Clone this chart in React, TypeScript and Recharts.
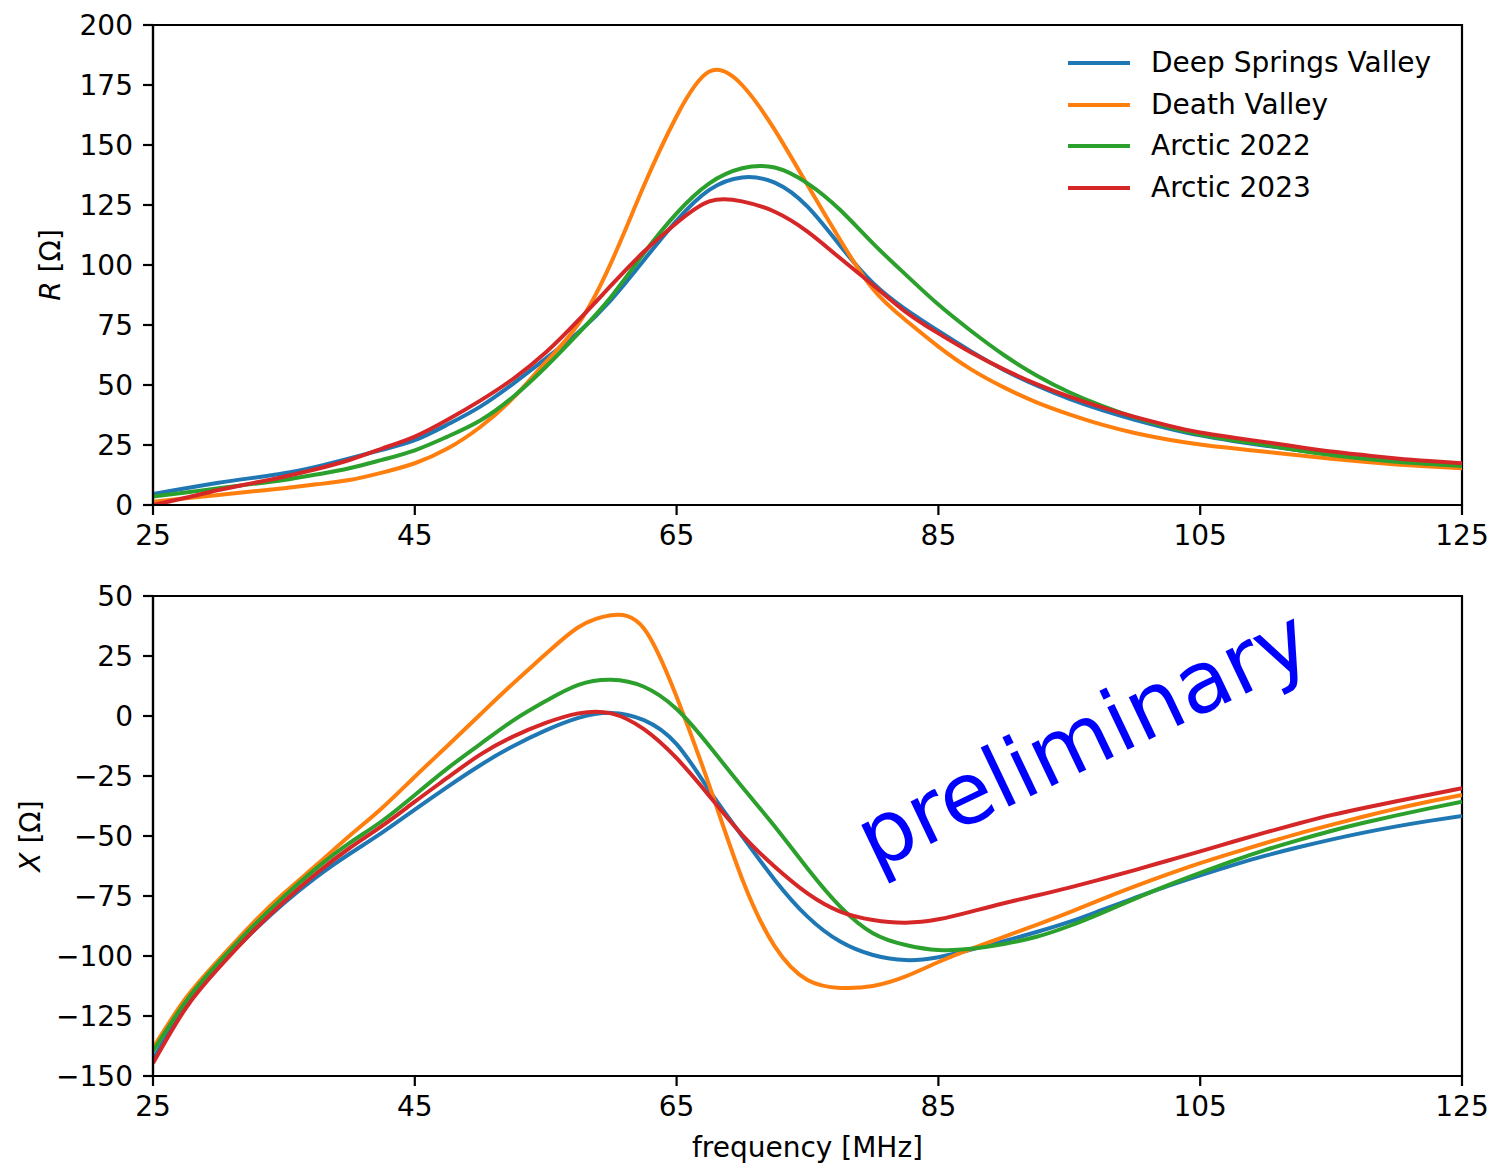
import React from 'react';
import { LineChart, Line, XAxis, YAxis, Legend, ReferenceDot, ReferenceArea } from 'recharts';

const FONT = '"DejaVu Sans", sans-serif';

// frequency grid in MHz
const freq = [
  25, 27.5, 30, 32.5, 35, 37.5, 40, 42.5, 45, 47.5, 50, 52.5, 55, 57.5, 60, 62.5, 65, 67.5, 70, 72.5,
  75, 77.5, 80, 82.5, 85, 87.5, 90, 92.5, 95, 97.5, 100, 102.5, 105, 107.5, 110, 112.5, 115, 117.5, 120, 122.5, 125,
];

// resistance R [Ohm]
const rDeepSprings = [
  4.6, 7, 9.3, 11.2, 13.2, 16, 19.4, 23, 27, 33.5, 41, 50.5, 61, 72, 85.5, 102, 118.5, 131.3, 136.5, 134.3,
  124.3, 108, 92.5, 81.5, 72.5, 64, 56.3, 49.8, 44.2, 39.5, 35.5, 32, 29, 26.7, 24.7, 22.8, 21.1, 19.6, 18.3, 17.3, 16.5,
];
const rDeathValley = [
  1.4, 2.8, 4.2, 5.6, 7, 8.6, 10.4, 13.5, 17.4, 23.5, 32.5, 44.5, 59.5, 75.5, 101, 133, 162, 180.6, 175, 156.3,
  133.3, 110.4, 90, 77, 66, 56.5, 49, 42.8, 37.8, 33.5, 30, 27.3, 25.2, 23.6, 22.2, 20.7, 19.3, 18, 16.9, 16, 15.3,
];
const rArctic2022 = [
  3.5, 5.2, 7, 8.7, 10.4, 12.7, 15.3, 18.8, 22.8, 28.5, 35.2, 45, 57.5, 71.5, 86.8, 104.9, 121.5, 134, 140.3, 140.6,
  134, 122.9, 109, 96, 83.5, 72.5, 62.5, 54, 47, 41.3, 36.5, 32.6, 29.4, 27, 25, 22.8, 20.8, 19.3, 18, 17.1, 16.3,
];
const rArctic2023 = [
  0, 3, 6.25, 9, 11.8, 15, 18.75, 23.5, 28.5, 35.5, 43.5, 52.5, 63.5, 77, 91.5, 105.5, 117.5, 126.5, 126.5, 122.2,
  113.9, 102.8, 91.7, 80.5, 71.5, 63.5, 56.5, 50.4, 45.2, 40.7, 36.7, 33.2, 30.2, 28.1, 26.2, 24.2, 22.3, 20.8, 19.4, 18.3, 17.4,
];

// reactance X [Ohm]
const xDeepSprings = [
  -143, -121, -104.4, -90.5, -78, -67, -57.5, -48.6, -39, -29.5, -20.5, -12.6, -6, -0.8, 1.3, -1.7, -11.7, -31, -50, -68.3,
  -83.6, -94, -99.6, -101.7, -100.5, -97.3, -93.8, -90, -85.8, -80.8, -75.8, -70.9, -66.4, -62.1, -58.2, -54.7, -51.5, -48.6, -46, -43.7, -41.7,
];
const xDeathValley = [
  -138.4, -117.6, -101.7, -87, -73.9, -62, -50, -38.3, -25.3, -12.4, 0.6, 13.5, 25.8, 37, 42, 36.5, 8, -29, -67.8, -96,
  -110, -113.3, -112.5, -108.5, -102.5, -97, -92, -87, -81.8, -76.3, -71, -66, -61.3, -57, -52.9, -49, -45.4, -41.9, -38.6, -35.6, -32.9,
];
const xArctic2022 = [
  -139.7, -119, -102.8, -88.4, -75.3, -63.4, -53, -43.75, -32.9, -21.8, -11.7, -1.9, 6.25, 13, 15.1, 12.2, 2.9, -12.5, -29.5, -46,
  -63.5, -79.4, -90.5, -95.4, -97.5, -97, -95, -92, -87.5, -82, -76.2, -70.6, -65.4, -60.4, -55.8, -51.7, -47.9, -44.5, -41.4, -38.5, -35.7,
];
const xArctic2023 = [
  -144.7, -121.8, -105.1, -90.5, -77.4, -65.5, -55.1, -45.8, -35.7, -25.7, -16.1, -8.6, -2.9, 1.1, 1.1, -5.5, -17.6, -33.3, -49.5, -62.8,
  -73.9, -81.5, -85, -86.1, -84.7, -81.5, -78, -74.8, -71.5, -67.9, -64.2, -60.3, -56.4, -52.4, -48.5, -44.8, -41.3, -38.3, -35.5, -32.8, -30.1,
];

const freqTicks = [25, 45, 65, 85, 105, 125];
const rTicks = [0, 25, 50, 75, 100, 125, 150, 175, 200];
const xTicks = [-150, -125, -100, -75, -50, -25, 0, 25, 50];

const series = [
  { key: 'dsv', name: 'Deep Springs Valley', color: '#1f77b4' },
  { key: 'dv', name: 'Death Valley', color: '#ff7f0e' },
  { key: 'a22', name: 'Arctic 2022', color: '#2ca02c' },
  { key: 'a23', name: 'Arctic 2023', color: '#d62728' },
];

const rData = freq.map((f, i) => ({ f, dsv: rDeepSprings[i], dv: rDeathValley[i], a22: rArctic2022[i], a23: rArctic2023[i] }));
const xData = freq.map((f, i) => ({ f, dsv: xDeepSprings[i], dv: xDeathValley[i], a22: xArctic2022[i], a23: xArctic2023[i] }));

const fmt = (v: number) => (v < 0 ? `\u2212${Math.abs(v)}` : `${v}`);

const tickStyle = { fill: '#000', fontSize: 28, fontFamily: FONT };
const axisStroke = { stroke: '#000', strokeWidth: 2.2 };

// rotated y-axis title with italic symbol
const yTitle = (symbol: string, cx: number) => (props: any) => {
  const vb = props.viewBox || { x: 0, y: 0, width: 0, height: 480 };
  const x = vb.x + cx;
  const y = vb.y + vb.height / 2;
  return (
    <text x={x} y={y} transform={`rotate(-90 ${x} ${y})`} textAnchor="middle" dominantBaseline="central"
      fontFamily={FONT} fontSize={28} fill="#000">
      <tspan fontStyle="italic">{symbol}</tspan> [Ω]
    </text>
  );
};

const freqTitle = (props: any) => {
  const vb = props.viewBox || { x: 153, y: 480, width: 1309, height: 92 };
  return (
    <text x={vb.x + vb.width / 2} y={vb.y + 71} textAnchor="middle" dominantBaseline="central"
      fontFamily={FONT} fontSize={28} fill="#000">
      frequency [MHz]
    </text>
  );
};

// legend rows keep the plotting order of the series
const LegendBox = (props: any) => {
  const items = [...(props.payload || [])].sort(
    (a: any, b: any) => series.findIndex((s) => s.name === a.value) - series.findIndex((s) => s.name === b.value),
  );
  return (
    <div style={{ fontFamily: FONT, fontSize: 28, color: '#000' }}>
      {items.map((item: any) => (
        <div key={item.value} style={{ display: 'flex', alignItems: 'center', height: 41.7 }}>
          <span style={{ display: 'inline-block', width: 62, height: 4, background: item.color, marginRight: 21 }} />
          <span style={{ lineHeight: 1, whiteSpace: 'nowrap' }}>{item.value}</span>
        </div>
      ))}
    </div>
  );
};

const Stamp = (props: any) => {
  const { cx, cy } = props;
  return (
    <text x={cx} y={cy} transform={`rotate(-25.5 ${cx} ${cy})`} textAnchor="middle"
      fontFamily={FONT} fontSize={86} fill="#0000ff">
      preliminary
    </text>
  );
};

function frame(y1: number, y2: number) {
  return (
    <ReferenceArea x1={25} x2={125} y1={y1} y2={y2} fill="none" fillOpacity={0}
      stroke="#000" strokeWidth={2.2} ifOverflow="visible" />
  );
}

function seriesLines() {
  return series.map((s) => (
    <Line key={s.key} type="natural" dataKey={s.key} name={s.name} stroke={s.color} strokeWidth={4}
      dot={false} activeDot={false} isAnimationActive={false} />
  ));
}

export default function App() {
  return (
    <div style={{ position: 'absolute', left: 0, top: 0, width: 1499, height: 1168, background: '#fff' }}>
      <div style={{ position: 'absolute', left: 0, top: 0 }}>
        <LineChart width={1499} height={560} data={rData} margin={{ top: 25, right: 37, bottom: 0, left: 0 }}>
          <XAxis dataKey="f" type="number" domain={[25, 125]} ticks={freqTicks} allowDataOverflow
            height={55} tick={tickStyle} tickSize={10} tickMargin={10} tickLine={axisStroke} axisLine={axisStroke} />
          <YAxis type="number" domain={[0, 200]} ticks={rTicks} allowDataOverflow width={153}
            tick={tickStyle} tickSize={10} tickMargin={10} tickLine={axisStroke} axisLine={axisStroke}
            tickFormatter={fmt} label={{ content: yTitle('R', 50) }} />
          <Legend layout="vertical" align="center" verticalAlign="middle" content={<LegendBox />}
            wrapperStyle={{ position: 'absolute', left: 1068, top: 42, width: 420, height: 170 }} />
          {seriesLines()}
          {frame(0, 200)}
        </LineChart>
      </div>
      <div style={{ position: 'absolute', left: 0, top: 560 }}>
        <LineChart width={1499} height={608} data={xData} margin={{ top: 36, right: 37, bottom: 0, left: 0 }}>
          <XAxis dataKey="f" type="number" domain={[25, 125]} ticks={freqTicks} allowDataOverflow
            height={92} tick={tickStyle} tickSize={10} tickMargin={10} tickLine={axisStroke} axisLine={axisStroke}
            label={{ content: freqTitle }} />
          <YAxis type="number" domain={[-150, 50]} ticks={xTicks} allowDataOverflow width={153}
            tick={tickStyle} tickSize={10} tickMargin={10} tickLine={axisStroke} axisLine={axisStroke}
            tickFormatter={fmt} label={{ content: yTitle('X', 30) }} />
          {seriesLines()}
          {frame(-150, 50)}
          <ReferenceDot x={97} y={-20.5} r={0} ifOverflow="visible" shape={<Stamp />} />
        </LineChart>
      </div>
    </div>
  );
}
